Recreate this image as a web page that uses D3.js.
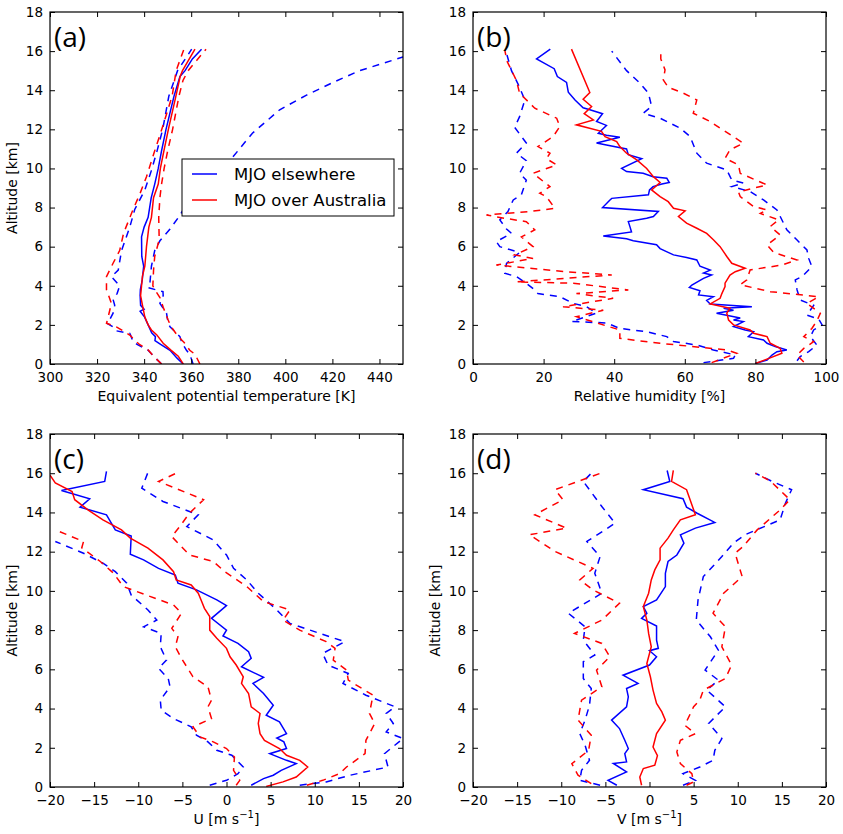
<!DOCTYPE html>
<html>
<head>
<meta charset="utf-8">
<script src="https://cdn.jsdelivr.net/npm/d3@7"></script>
<style>
  body { margin: 0; background: #fff; }
  svg text { font-family: "DejaVu Sans", sans-serif; fill: #000; }
</style>
</head>
<body>
<div id="chart"></div>
<script>
/**
 * profile data, pairs of [value, altitude km]
 */

// (a) equivalent potential temperature [K]
const aBlueMed = [[356.6,0],[354,0.3],[351,0.7],[347,1.0],[344.6,1.2],[344.8,1.4],[343.2,1.6],[341.7,2.0],[340.2,2.4],[338.3,2.7],[340,2.8],[338.5,3.0],[338.3,3.5],[338.4,3.8],[339.2,4.3],[339.8,5.0],[339,5.5],[338.9,6.5],[340,7.0],[341.7,7.5],[343,8.5],[344.5,9.2],[346,10],[347.4,10.9],[349.3,12],[352.7,13.7],[355.2,14.7],[357.4,15.0],[360.5,15.6],[364.4,16.1]];
const aRedMed = [[356.6,0],[354.5,0.4],[351.5,0.7],[348.1,1.06],[345.3,1.5],[343.1,1.74],[341.7,2.0],[340.3,2.4],[339.3,3.0],[338.5,3.5],[338.9,4.0],[339.3,4.5],[340.3,5.0],[341,6.0],[342,7.0],[343.1,7.5],[344,8.5],[346,9.2],[346.9,10],[348.4,10.9],[350.3,12],[353.5,13.7],[355.3,14.7],[356.3,15.0],[361.6,16.1]];
const aBlueLo = [[347.4,0],[344,0.4],[341.7,0.7],[337,1.0],[335.3,1.14],[334.5,1.4],[333.9,1.57],[328,1.7],[326.8,1.9],[324,2.1],[325.5,2.3],[326.8,2.6],[327.5,3.0],[326.8,3.3],[328.5,3.6],[329.6,4.0],[326.1,4.47],[329,4.8],[330.4,5.8],[333.9,7.0],[336,7.9],[340.3,8.9],[343.1,9.9],[345.5,10.9],[347.9,12],[350.5,13.7],[354.2,15.0],[360.2,16.1]];
const aRedLo = [[347.4,0],[344,0.4],[341.7,0.72],[338,1.0],[336.7,1.14],[333.9,1.48],[328.2,1.9],[324,2.08],[324.7,2.4],[326.1,3.1],[324,3.8],[324,4.47],[326.8,5.15],[329.6,5.8],[331.3,6.7],[335.3,7.9],[338.2,8.7],[341,9.58],[344.5,10.9],[347.5,12],[351.9,13.7],[353.6,15.0],[356.9,16.1]];
const aBlueHi = [[360.8,0],[359.4,0.5],[358,0.7],[356,1.1],[355.2,1.4],[351,1.9],[350.2,2.1],[349.5,2.6],[346.7,3.1],[348.1,3.5],[348,3.7],[341.7,3.9],[342.5,4.2],[343.1,5.0],[344.5,5.8],[346.7,6.3],[351,6.9],[355.2,7.6],[362,9.0],[376.4,10.4],[386,11.8],[397.6,13.0],[409,13.75],[420.3,14.4],[431.6,15.0],[450,15.7],[462,16.1]];
const aRedHi = [[363.7,0],[361.6,0.5],[359.4,0.7],[357,1.1],[354.5,1.4],[351.5,1.9],[350.2,2.25],[348.1,2.9],[346.7,3.4],[344.5,3.8],[343.7,4.0],[344,4.8],[344.5,5.5],[346.4,6.35],[346.2,7.5],[346.7,8.5],[347.4,9.2],[348.5,10],[350,10.9],[352.1,12],[354.8,13.7],[356.5,14.5],[358.7,15.0],[366.3,16.1]];

// (b) relative humidity [%]
const bBlueMed = [[80,0.03],[83.3,0.2],[84.7,0.46],[86.1,0.63],[88.9,0.72],[85.6,0.89],[83.3,1.06],[82.3,1.23],[78,1.4],[79.5,1.65],[77.1,1.74],[73.8,1.91],[76.6,2.17],[73.8,2.25],[75.7,2.35],[69,2.59],[73.8,2.75],[71,2.85],[79,2.93],[67.2,3.07],[66.2,3.25],[68.1,3.44],[63.9,3.53],[64.3,3.75],[61.3,3.92],[62,4.04],[65.3,4.38],[67.6,4.55],[65.3,4.65],[67.2,4.8],[64.3,5.0],[63.4,5.32],[60.5,5.45],[56.8,5.58],[53,5.9],[52,6.1],[45.4,6.3],[43.5,6.4],[36.9,6.55],[44.9,6.75],[44.5,7.0],[44,7.28],[49.2,7.45],[51.1,7.54],[52.5,7.8],[36.7,8.0],[38.8,8.39],[39.3,8.47],[49.7,8.65],[50,8.9],[51,9.07],[53.5,9.2],[55.6,9.28],[54.9,9.5],[51,9.58],[48.2,9.75],[43.5,9.84],[42.1,10.0],[47.8,10.5],[44,10.7],[43.5,11.0],[37.8,11.2],[35,11.3],[41.6,11.6],[37.8,11.7],[35.5,11.8],[37.8,12.2],[35,12.4],[36.7,12.8],[33.1,13.0],[31.2,13.1],[28.9,13.5],[27,13.9],[26.5,14.4],[23.9,14.7],[23,15.1],[18,15.6],[21.9,16.1]];
const bRedMed = [[80,0.03],[84,0.3],[87.5,0.55],[87,0.8],[84.2,1.06],[83.3,1.4],[79.5,1.57],[78.5,1.74],[73.8,2.0],[72.4,2.25],[71.9,2.6],[72.8,2.85],[67.2,3.07],[70,3.36],[70.5,3.6],[71.4,3.96],[71.4,4.13],[72.8,4.55],[74.3,4.72],[77.1,4.9],[73.3,5.15],[71.9,5.5],[70,6.0],[68.1,6.35],[66.2,6.68],[63.4,6.94],[60.5,7.2],[58.2,7.54],[60.1,7.83],[56.8,7.96],[55.3,8.3],[53,8.56],[50.6,8.9],[53,9.28],[51.1,9.58],[49.2,10],[46.4,10.44],[43.5,10.78],[41.6,11.12],[40.7,11.37],[37.4,11.63],[36.4,11.9],[29.3,12.23],[34.1,12.48],[31.5,12.8],[33.6,13.17],[31.2,13.54],[33.1,13.88],[27.9,16.1]];
const bBlueLo = [[65.3,0.07],[73.8,0.29],[74.3,0.46],[68.1,0.72],[63.4,0.97],[56.8,1.15],[54.9,1.4],[49.2,1.65],[41.6,1.82],[37.8,2.1],[27.9,2.17],[35,2.6],[32.2,2.93],[28.4,3.1],[24.6,3.44],[18.4,3.6],[17.5,3.79],[15.1,4.13],[12.3,4.47],[9,4.64],[9.5,5.15],[13.2,5.7],[7.6,6.0],[6.6,6.26],[10.9,6.68],[9.5,6.9],[7.6,7.37],[9.9,7.8],[11.4,8.39],[13.7,8.65],[15.1,9.4],[13.2,9.75],[15.1,10.4],[12.3,10.78],[15.1,11.3],[11.8,12.1],[13.2,12.65],[14.7,13.5],[12.8,14.3],[10.9,15.0],[9.3,16.0]];
const bRedLo = [[67.6,0.07],[74.7,0.55],[71.9,0.72],[53,1.06],[41.6,1.31],[41.6,1.74],[29.3,2.42],[36.9,2.75],[25.5,2.93],[39.7,3.36],[29.3,3.6],[44,3.79],[28.4,4.13],[12.3,4.2],[39.3,4.55],[26.5,4.72],[6.6,5.06],[17,5.4],[11.8,5.58],[17,6.0],[13.7,6.5],[17.5,6.86],[15.1,7.28],[9,7.45],[3.8,7.62],[16.1,7.8],[23.2,7.96],[20.8,8.56],[18.9,8.73],[21.8,9.07],[17,9.75],[23.7,10.18],[20.8,10.5],[21.8,10.78],[18.4,11.12],[22.7,11.63],[24.6,12.14],[23.7,12.57],[17.5,13.08],[13.2,13.85],[12.3,14.5],[9.6,15.5],[9,16.06]];
const bBlueHi = [[91.8,0.17],[92.7,0.38],[95.1,0.63],[97.4,0.97],[95.6,1.4],[96.5,1.74],[98.9,2.0],[97.9,2.3],[94.6,2.5],[96.5,3.0],[92.7,3.27],[91.8,3.79],[91.3,4.3],[93.2,4.47],[96,4.98],[95.1,5.4],[94.6,5.83],[91.8,6.34],[88.9,6.86],[86.1,7.88],[82.3,8.39],[78.5,8.82],[73.3,9.07],[76.6,9.25],[73.3,9.41],[71.9,9.92],[66.2,10.27],[63.4,10.78],[61.5,11.63],[58.7,12.06],[53,12.57],[48.2,12.82],[50.6,13.17],[49.7,13.85],[47.3,14.36],[43.5,15.0],[39.3,16.0]];
const bRedHi = [[93.7,0.1],[91.8,0.46],[93.7,0.8],[96.5,1.14],[93.7,1.4],[96,1.82],[97.4,2.2],[98.4,2.59],[94.6,3.1],[97.9,3.44],[84.2,3.7],[75.7,4.05],[77.6,4.3],[78.5,4.81],[87.5,5.06],[91.8,5.32],[85.2,5.7],[83.3,6.09],[87,6.6],[84.2,7.03],[86.6,7.37],[81.4,7.7],[83.3,7.88],[79.5,8.05],[75.7,8.56],[75.2,8.8],[83.3,9.16],[75.7,9.75],[75.2,10.18],[71.4,10.52],[72.8,10.95],[76.6,11.29],[70,12.06],[67.2,12.4],[62.4,12.82],[63.4,13.5],[59.6,13.85],[55.3,14.15],[53.9,14.53],[54.4,15.04],[53.2,15.6],[53.2,16.06]];

// (c) zonal wind U [m/s]
const cBlueMed = [[2.8,0.09],[4.2,0.43],[5.3,0.6],[6.2,0.85],[7.9,1.19],[6.8,1.36],[4.9,1.7],[6.8,1.96],[6.5,2.3],[5.7,2.5],[6.8,2.72],[6,3.32],[4.5,3.66],[5.3,4.17],[4.2,4.77],[3,5.28],[4.2,5.59],[1.7,6.13],[2.8,6.56],[2.5,6.9],[1.3,7.32],[-0.4,7.7],[0,8.0],[-1.7,8.6],[0,9.25],[-1.1,9.54],[-3.4,10.05],[-5.5,10.39],[-5.8,10.81],[-7.7,11.15],[-9.4,11.58],[-10.9,11.87],[-10.8,12.8],[-12.6,13.11],[-13.6,13.88],[-16.6,14.27],[-15.5,14.7],[-18.7,15.12],[-13.8,15.58],[-13.6,16.09]];
const cRedMed = [[4.5,0.03],[6.4,0.26],[7.9,0.51],[9.2,1.02],[8.3,1.36],[6.8,1.62],[6,1.96],[4.3,2.38],[3.8,2.72],[3.6,3.24],[3.8,3.75],[2.8,4.09],[2.5,4.77],[1.7,5.28],[1.9,5.62],[1.1,6.22],[0.4,6.64],[0,7.07],[-1.1,7.58],[-1.9,8.0],[-1.9,8.69],[-2.5,9.11],[-2.8,9.45],[-3.2,9.88],[-4,10.3],[-5.7,10.56],[-6,10.98],[-7.2,11.58],[-8.9,12.18],[-10.9,12.69],[-11.9,13.11],[-14,13.62],[-15.7,14.13],[-17.2,14.65],[-17.5,15.07],[-19.4,15.5],[-20,15.9]];
const cBlueLo = [[-1.9,0.09],[0,0.34],[1.3,0.68],[1.9,1.02],[0.6,1.62],[-1.1,1.87],[-2.1,2.3],[-3.4,2.64],[-4,3.07],[-6,3.49],[-7.4,3.92],[-7.5,4.43],[-6.4,5.11],[-6.6,5.53],[-7.7,6.05],[-6.8,6.47],[-7.5,7.15],[-7.4,7.83],[-9.4,8.17],[-7.9,8.51],[-8.9,9.03],[-10.8,9.79],[-11.3,10.39],[-12.6,10.98],[-14,11.41],[-16.2,11.92],[-19.4,12.52]];
const cRedLo = [[1.1,0.09],[1.5,0.34],[0.8,0.85],[0.9,1.53],[0,1.96],[-1.5,2.3],[-3,2.55],[-3.8,3.07],[-1.7,3.49],[-2.1,4.09],[-1.7,4.43],[-2.1,5.11],[-3.8,5.62],[-5.1,6.56],[-5.8,7.15],[-5.5,7.66],[-6.2,8.09],[-5.1,8.86],[-6,9.28],[-9.1,9.79],[-11.7,10.22],[-12.8,10.9],[-14.3,11.5],[-16.4,12.2],[-16.2,12.52],[-19.4,13.11]];
const cBlueHi = [[8.3,0.09],[11.3,0.26],[14,0.6],[18.3,1.02],[17.9,1.7],[20,2.47],[18.1,2.81],[18.9,3.24],[18.1,3.75],[19.1,4.09],[15.8,4.68],[13.2,5.28],[13.8,5.79],[11.5,6.22],[10.9,6.81],[13.4,7.41],[10.6,7.83],[7.2,8.34],[5.7,9.03],[3.6,9.88],[2.3,10.56],[0.8,11.15],[0,11.83],[-1.5,12.6],[-4.5,13.28],[-3.2,13.88],[-7.2,14.56],[-9.6,15.24],[-8.9,16.04]];
const cRedHi = [[9.1,0.09],[10.9,0.34],[12.8,0.68],[13.6,1.02],[15.7,1.7],[15.8,2.38],[16.8,3.24],[16.2,3.75],[16.6,4.68],[13.8,5.45],[13.6,5.96],[12.1,6.47],[12.3,7.07],[11.3,7.41],[8.3,8.0],[6.4,8.51],[7.2,9.03],[4.2,9.45],[2.3,10.22],[-0.2,10.98],[-1.5,11.5],[-4.2,11.83],[-6.2,12.77],[-5.3,13.28],[-4.2,13.96],[-2.6,14.65],[-7.7,15.58],[-5.7,16.0]];

// (d) meridional wind V [m/s]
const dBlueMed = [[-3.7,0.09],[-4.7,0.34],[-2.6,0.77],[-4.1,1.2],[-2.6,1.28],[-2.8,1.7],[-2.4,1.96],[-2.8,2.38],[-3.4,2.98],[-4.3,3.41],[-2.6,4.09],[-2.4,4.6],[-2.6,5.02],[-1.3,5.28],[-3,5.7],[0,6.22],[0.8,6.64],[0,6.95],[1,7.07],[0.8,7.49],[0.8,8.21],[-0.9,8.6],[-0.3,8.86],[-0.7,9.2],[0.8,9.54],[1.8,10.22],[1.8,10.9],[2.1,11.5],[3.1,11.83],[3.9,12.43],[3.5,12.86],[5.2,13.2],[7.4,13.49],[5.4,13.96],[4.2,14.27],[3.8,14.7],[-0.7,15.16],[2.3,15.58],[2,16.14]];
const dRedMed = [[-0.9,0.09],[-1.1,0.51],[-0.7,0.94],[0.6,1.11],[0.9,1.6],[0.4,2.04],[0.8,2.72],[1.8,3.41],[1.4,3.83],[0.8,4.26],[0.4,4.94],[0.1,5.62],[-0.3,6.3],[0.2,7.15],[-0.1,7.83],[-0.3,8.51],[-0.7,9.2],[-0.1,9.88],[0.2,10.56],[0.6,11.07],[1.2,11.58],[1.2,12.18],[2.1,12.69],[2.7,13.11],[3.5,13.62],[5.2,13.88],[4.2,15.16],[2.5,15.58],[2.7,16.14]];
const dBlueLo = [[-5.6,0.09],[-7.9,0.34],[-7.7,0.85],[-6.8,1.36],[-7.3,2.13],[-7.9,2.72],[-7.3,3.41],[-6.8,4.17],[-6.6,5.02],[-7.5,5.53],[-7.5,6.39],[-6.2,6.73],[-7.5,7.49],[-7.3,8.17],[-9.2,8.86],[-5.4,9.88],[-6.2,10.9],[-5.6,11.75],[-7.1,12.52],[-3.9,13.45],[-5.4,14.3],[-7.5,15.58],[-6.4,16.09]];
const dRedLo = [[-6.6,0.17],[-8.1,0.6],[-8.8,1.19],[-6.9,1.87],[-6.6,2.64],[-8.1,3.41],[-7.7,4.43],[-5.4,5.11],[-6,5.96],[-4.5,6.64],[-5.4,7.32],[-8.5,7.83],[-5.4,8.51],[-3.4,9.37],[-6.4,10.05],[-7.9,10.56],[-6.4,11.15],[-10.7,12.01],[-13.6,12.86],[-9.4,13.2],[-13,13.88],[-9.8,14.65],[-10.7,15.16],[-5.3,16.04]];
const dBlueHi = [[3.8,0.09],[5.2,0.34],[3.8,0.68],[5.7,1.02],[7.2,1.36],[7.4,1.87],[8.2,2.47],[6.7,3.24],[8.6,4.09],[6.5,4.94],[7.8,5.45],[6.3,5.96],[7.8,6.98],[6.9,7.66],[5.3,8.51],[5.5,9.54],[6.1,10.73],[8.2,11.75],[9.5,12.43],[10.8,12.86],[14.8,13.62],[15.4,14.47],[16.1,15.16],[13.9,15.58],[12,16.0]];
const dRedHi = [[4.2,0.09],[5,0.26],[4.8,0.68],[3.5,1.19],[3.1,1.79],[3.5,2.38],[5.2,2.72],[4,3.15],[5,4.09],[5.7,4.43],[6.1,4.94],[8.6,5.53],[9.3,6.22],[8.2,7.15],[8.6,8.17],[7.2,8.86],[8.4,9.88],[10.5,10.73],[9.7,11.92],[10.6,12.26],[12.2,13.11],[14.8,14.13],[15.9,14.65],[13.7,15.6],[12,16.0]];

const altTicks = d3.range(0, 19, 2);
const legendNames = ["MJO elsewhere", "MJO over Australia"];

/**
 * layout constants
 */
const WIDTH = 843;
const HEIGHT = 834;
const BLUE = "#0000ff";
const RED = "#ff0000";
const TICK = 5;

const panels = [
    { tag: "(a)", x0: 50, x1: 403, y0: 12, y1: 364, domain: [300, 450], ticks: d3.range(300, 441, 20),
      xlabel: ["Equivalent potential temperature [K]"], ylabel: true,
      blue: [aBlueMed, aBlueLo, aBlueHi], red: [aRedMed, aRedLo, aRedHi], legend: true },
    { tag: "(b)", x0: 473, x1: 826, y0: 12, y1: 364, domain: [0, 100], ticks: d3.range(0, 101, 20),
      xlabel: ["Relative humidity [%]"], ylabel: false,
      blue: [bBlueMed, bBlueLo, bBlueHi], red: [bRedMed, bRedLo, bRedHi] },
    { tag: "(c)", x0: 50, x1: 403, y0: 434, y1: 787, domain: [-20, 20], ticks: d3.range(-20, 21, 5),
      xlabel: ["U  [m s", "\u22121", "]"], ylabel: true,
      blue: [cBlueMed, cBlueLo, cBlueHi], red: [cRedMed, cRedLo, cRedHi] },
    { tag: "(d)", x0: 473, x1: 826, y0: 434, y1: 787, domain: [-20, 20], ticks: d3.range(-20, 21, 5),
      xlabel: ["V [m s", "\u22121", "]"], ylabel: true,
      blue: [dBlueMed, dBlueLo, dBlueHi], red: [dRedMed, dRedLo, dRedHi] }
];

const svg = d3.select("#chart").append("svg")
    .attr("width", WIDTH)
    .attr("height", HEIGHT);

panels.forEach((p, i) => drawPanel(p, i));

function drawPanel(p, i) {
    const x = d3.scaleLinear().domain(p.domain).range([p.x0, p.x1]);
    const y = d3.scaleLinear().domain([0, 18]).range([p.y1, p.y0]);
    const g = svg.append("g");

    g.append("clipPath").attr("id", "clip" + i)
        .append("rect")
        .attr("x", p.x0).attr("y", p.y0)
        .attr("width", p.x1 - p.x0).attr("height", p.y1 - p.y0);

    const line = d3.line().x(d => x(d[0])).y(d => y(d[1]));
    const plot = g.append("g").attr("clip-path", `url(#clip${i})`);

    [[p.blue, BLUE], [p.red, RED]].forEach(([set, col]) => {
        set.forEach((s, k) => {
            plot.append("path")
                .datum(s)
                .attr("d", line)
                .attr("fill", "none")
                .attr("stroke", col)
                .attr("stroke-width", 1.5)
                .attr("stroke-dasharray", k == 0 ? null : "7,6");
        });
    });

    // axes, ticks inside on all four sides
    const fmt = d3.format("");
    g.append("g").attr("transform", `translate(0,${p.y1})`)
        .call(d3.axisBottom(x).tickValues(p.ticks).tickSizeInner(-TICK).tickSizeOuter(0).tickPadding(8).tickFormat(fmt));
    g.append("g").attr("transform", `translate(0,${p.y0})`)
        .call(d3.axisTop(x).tickValues(p.ticks).tickSizeInner(-TICK).tickSizeOuter(0).tickFormat(""));
    g.append("g").attr("transform", `translate(${p.x0},0)`)
        .call(d3.axisLeft(y).tickValues(altTicks).tickSizeInner(-TICK).tickSizeOuter(0).tickPadding(7));
    g.append("g").attr("transform", `translate(${p.x1},0)`)
        .call(d3.axisRight(y).tickValues(altTicks).tickSizeInner(-TICK).tickSizeOuter(0).tickFormat(""));

    g.selectAll(".domain").remove();
    g.selectAll(".tick line").attr("stroke", "#000");
    g.selectAll(".tick text")
        .attr("fill", "#000")
        .style("font-family", "'DejaVu Sans', sans-serif")
        .style("font-size", "13.5px");

    g.append("rect")
        .attr("x", p.x0).attr("y", p.y0)
        .attr("width", p.x1 - p.x0).attr("height", p.y1 - p.y0)
        .attr("fill", "none").attr("stroke", "#000").attr("stroke-width", 1.2);

    // labels
    const xl = g.append("text")
        .attr("x", (p.x0 + p.x1) / 2)
        .attr("y", p.y1 + 37)
        .attr("text-anchor", "middle")
        .style("font-size", "14px");
    xl.append("tspan").text(p.xlabel[0]);
    if (p.xlabel.length > 1) {
        xl.append("tspan").attr("dy", -6).style("font-size", "10px").text(p.xlabel[1]);
        xl.append("tspan").attr("dy", 6).text(p.xlabel[2]);
    }

    if (p.ylabel) {
        g.append("text")
            .attr("transform", `translate(${p.x0 - 38.5},${(p.y0 + p.y1) / 2}) rotate(-90)`)
            .attr("text-anchor", "middle")
            .attr("dominant-baseline", "central")
            .style("font-size", "14px")
            .text("Altitude [km]");
    }

    g.append("text")
        .attr("x", p.x0 + 4)
        .attr("y", p.y0 + 34.5)
        .style("font-family", "'Open Sans', sans-serif")
        .style("font-size", "28px")
        .text(p.tag);

    if (p.legend) {
        const lg = g.append("g");
        lg.append("rect")
            .attr("x", 182).attr("y", 159).attr("width", 212).attr("height", 57)
            .attr("fill", "#fff").attr("stroke", "#000").attr("stroke-width", 1);
        [BLUE, RED].forEach((col, k) => {
            const ly = 174 + k * 26;
            lg.append("line")
                .attr("x1", 192).attr("x2", 217).attr("y1", ly).attr("y2", ly)
                .attr("stroke", col).attr("stroke-width", 1.5);
            lg.append("text")
                .attr("x", 234).attr("y", ly)
                .attr("dominant-baseline", "central")
                .style("font-size", "16.5px")
                .text(legendNames[k]);
        });
    }
}
</script>
</body>
</html>
